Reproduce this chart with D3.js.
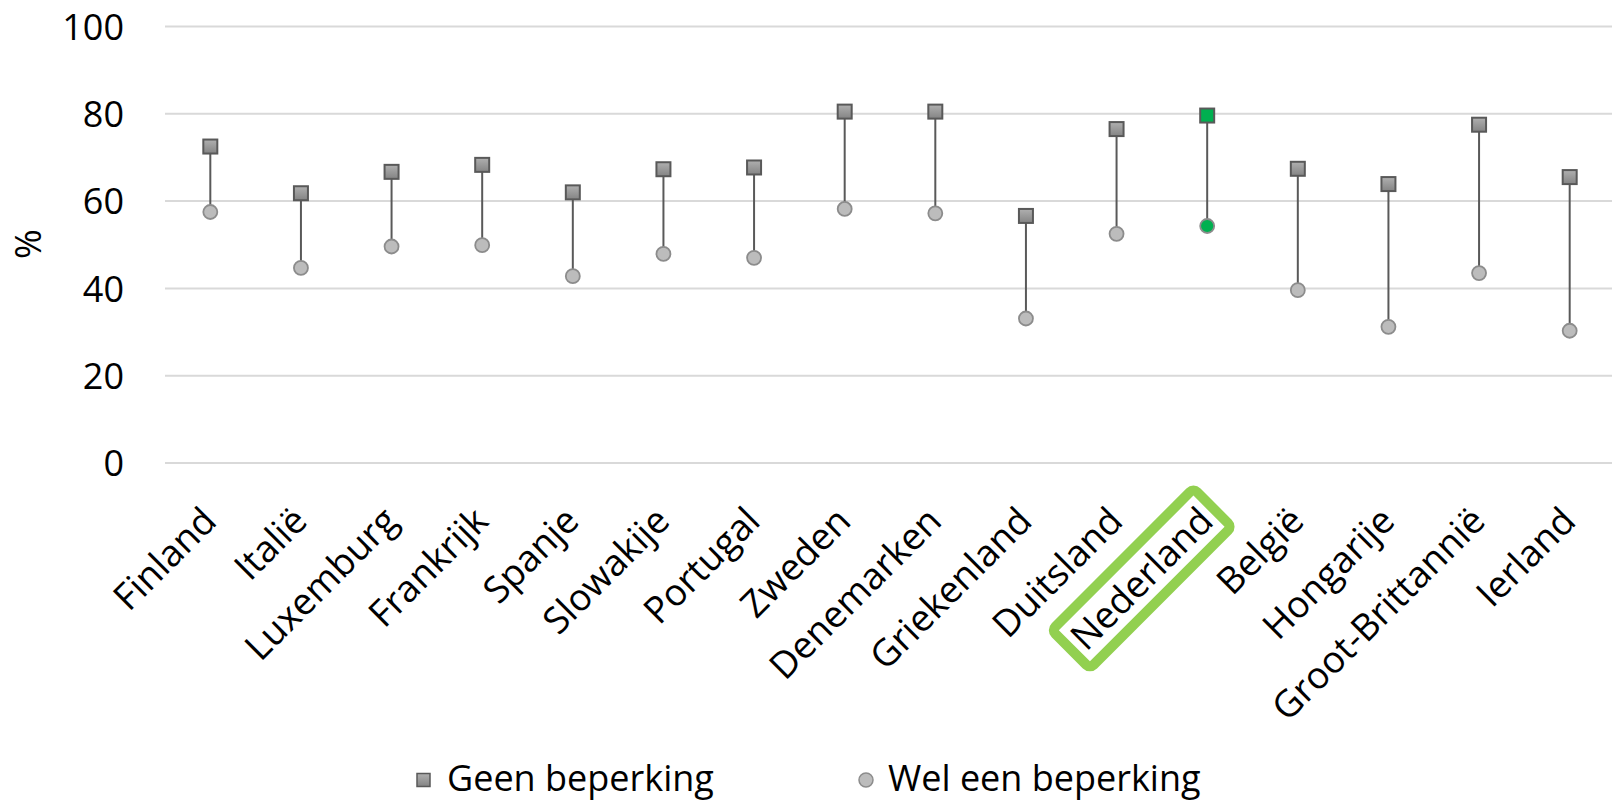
<!DOCTYPE html>
<html>
<head>
<meta charset="utf-8">
<script src="https://cdn.jsdelivr.net/npm/d3@7"></script>
<style>
  html, body { margin: 0; padding: 0; background: #fff; }
  svg { display: block; font-family: "Open Sans", "Noto Sans", sans-serif; }
</style>
</head>
<body>
<svg id="chart" width="1612" height="802"></svg>
<script>
const countries = ["Finland","Italië","Luxemburg","Frankrijk","Spanje","Slowakije","Portugal","Zweden","Denemarken","Griekenland","Duitsland","Nederland","België","Hongarije","Groot-Brittannië","Ierland"];
const geenBeperking = [72.5, 61.8, 66.7, 68.3, 62.0, 67.3, 67.7, 80.5, 80.5, 56.6, 76.5, 79.6, 67.4, 63.9, 77.5, 65.5];
const welBeperking  = [57.5, 44.7, 49.6, 49.9, 42.8, 47.9, 47.0, 58.2, 57.2, 33.1, 52.5, 54.3, 39.6, 31.2, 43.5, 30.3];
const yTicks = [0, 20, 40, 60, 80, 100];
const seriesNames = ["Geen beperking", "Wel een beperking"];
const highlighted = "Nederland";

const data = countries.map((c, i) => ({ c, geen: geenBeperking[i], wel: welBeperking[i] }));

const svg = d3.select("#chart");
const defs = svg.append("defs");
const grad = defs.append("linearGradient").attr("id", "sqGrad").attr("x1", 0).attr("y1", 0).attr("x2", 0).attr("y2", 1);
grad.append("stop").attr("offset", "0%").attr("stop-color", "#b0b0b0");
grad.append("stop").attr("offset", "100%").attr("stop-color", "#848484");

const x = d3.scaleBand().domain(countries).range([165, 1615]);
const y = d3.scaleLinear().domain([0, 100]).range([463, 26.5]);
const cx = d => x(d) + x.bandwidth() / 2;

// gridlines
svg.append("g").selectAll("line").data(yTicks).join("line")
  .attr("x1", 165).attr("x2", 1612)
  .attr("y1", d => y(d)).attr("y2", d => y(d))
  .attr("stroke", "#d9d9d9").attr("stroke-width", 2);

// y axis labels
const yAxis = d3.axisLeft(y).tickValues(yTicks).tickSize(0).tickPadding(0);
const yg = svg.append("g").attr("transform", "translate(124,0)").call(yAxis);
yg.select(".domain").remove();
yg.selectAll("text").attr("font-size", 36).attr("fill", "#000")
  .attr("font-family", "'Open Sans', sans-serif").attr("dy", "0.35em");

// y title
svg.append("text").attr("transform", "translate(28,244) rotate(-90)")
  .attr("text-anchor", "middle").attr("dy", "0.35em")
  .attr("font-size", 36).attr("fill", "#000").text("%");

// connectors
svg.append("g").selectAll("line").data(data).join("line")
  .attr("x1", d => cx(d.c)).attr("x2", d => cx(d.c))
  .attr("y1", d => y(d.geen)).attr("y2", d => y(d.wel))
  .attr("stroke", "#595959").attr("stroke-width", 2);

// circles
svg.append("g").selectAll("circle").data(data).join("circle")
  .attr("cx", d => cx(d.c)).attr("cy", d => y(d.wel)).attr("r", 7)
  .attr("fill", d => d.c === highlighted ? "#00b050" : "#bcbcbc")
  .attr("stroke", "#8c8c8c").attr("stroke-width", 1.8);

// squares
const sq = 14;
svg.append("g").selectAll("rect").data(data).join("rect")
  .attr("x", d => cx(d.c) - sq / 2).attr("y", d => y(d.geen) - sq / 2)
  .attr("width", sq).attr("height", sq)
  .attr("fill", d => d.c === highlighted ? "#00b050" : "url(#sqGrad)")
  .attr("stroke", "#595959").attr("stroke-width", 2);

// category labels
const labY = 514;
const lab = svg.append("g").selectAll("g").data(countries).join("g")
  .attr("transform", d => `translate(${cx(d) - 1},${labY}) rotate(-45)`);
lab.append("text").attr("text-anchor", "end").attr("dy", "0.35em")
  .attr("font-size", 37).attr("fill", "#000").text(d => d);

// highlight box
lab.filter(d => d === highlighted).each(function() {
  const g = d3.select(this);
  const L = g.select("text").node().getComputedTextLength();
  const pad = 9;
  g.insert("rect", "text")
    .attr("x", -L - pad).attr("y", -27)
    .attr("width", L + 2 * pad).attr("height", 54)
    .attr("rx", 5)
    .attr("fill", "none").attr("stroke", "#92d050").attr("stroke-width", 10);
});

// legend
const leg = svg.append("g");
leg.append("rect").attr("x", 423.5 - 6.5).attr("y", 780 - 6.5).attr("width", 13).attr("height", 13)
  .attr("fill", "url(#sqGrad)").attr("stroke", "#595959").attr("stroke-width", 1.5);
leg.append("text").attr("x", 447).attr("y", 791).attr("font-size", 36).attr("fill", "#000").text(seriesNames[0]);
leg.append("circle").attr("cx", 866).attr("cy", 780).attr("r", 7)
  .attr("fill", "#bcbcbc").attr("stroke", "#8c8c8c").attr("stroke-width", 1.5);
leg.append("text").attr("x", 888).attr("y", 791).attr("font-size", 36).attr("fill", "#000").text(seriesNames[1]);
</script>
</body>
</html>
